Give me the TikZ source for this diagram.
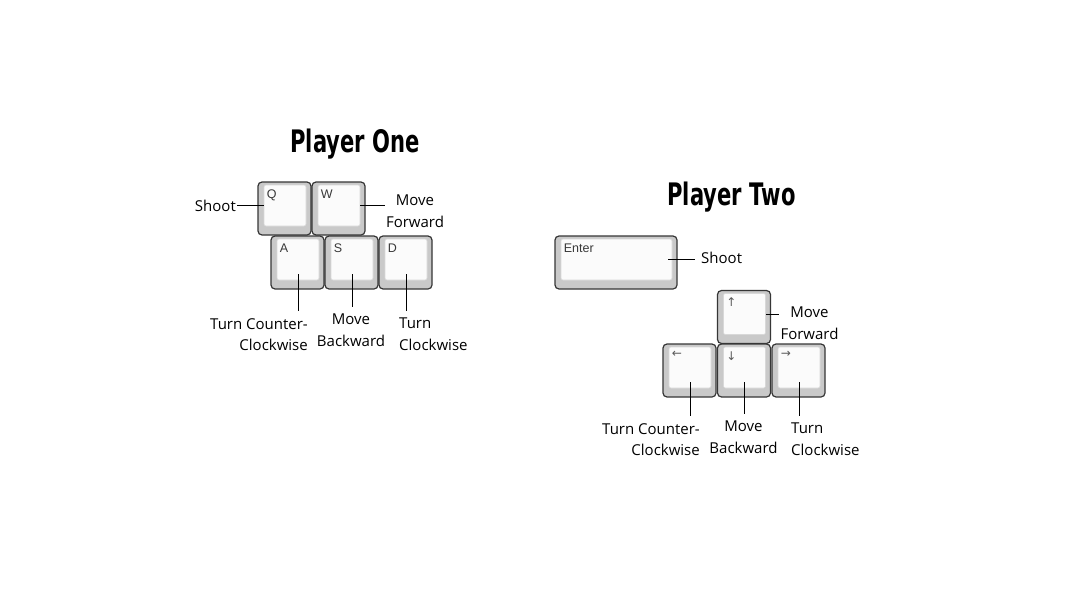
\documentclass[tikz,border=0pt]{standalone}
\usepackage{fontspec}
\setmainfont{Open Sans}
\newfontfamily\keyfont{Liberation Sans}
\newfontfamily\arrowfont{DejaVu Sans}
\newfontfamily\titlefont{DejaVu Sans}

\definecolor{keyfill}{HTML}{C9C9C9}
\definecolor{keyedge}{HTML}{363636}
\definecolor{capfill}{HTML}{FBFBFB}
\definecolor{capedge}{HTML}{D8D8D8}
\definecolor{keytext}{HTML}{383838}
\definecolor{arrowtext}{HTML}{5A5A5A}

\tikzset{
  keyout/.style={draw=keyedge, fill=keyfill, rounded corners=4pt, line width=1.2pt,
    minimum height=53, inner sep=0pt},
  keyin/.style={draw=capedge, fill=capfill, rounded corners=2pt, line width=0.6pt,
    minimum height=41, inner sep=0pt},
  keylbl/.style={anchor=north west, inner sep=0pt, text=keytext,
    font=\keyfont\fontsize{12.5}{13}\selectfont},
  title/.style={anchor=base, inner sep=0pt, xscale=0.68,
    font=\titlefont\bfseries\fontsize{31}{31}\selectfont},
  lbl/.style={inner xsep=1pt, inner ysep=7pt, font=\fontsize{15}{21.5}\selectfont},
  wire/.style={draw=black, line width=0.8pt}
}

% name, centre, width, legend
\newcommand{\keycap}[4]{%
  \node[keyout, minimum width=#3] (#1) at (#2) {};
  \node[keyin, minimum width=#3-11] (#1i) at ([xshift=0.5, yshift=3]#1.center) {};
  \node[keylbl] (#1l) at ([xshift=3, yshift=-4.5]#1i.north west) {#4};
}
\newcommand{\arrowsign}[1]{{\arrowfont\color{arrowtext}\fontsize{12}{12}\selectfont #1}}

\begin{document}
\begin{tikzpicture}[x=1pt,y=-1pt]
\useasboundingbox[fill=white] (0,0) rectangle (1080,608);

% player one
\node[title] (titleone) at (355,152) {Player One};
\keycap{q}{284.5,208.5}{53}{Q}
\keycap{w}{338.5,208.5}{53}{W}
\keycap{a}{297.5,262.5}{53}{A}
\keycap{s}{351.5,262.5}{53}{S}
\keycap{d}{405.5,262.5}{53}{D}

\node[lbl, anchor=east] (shootone) at (237,206) {Shoot};
\node[lbl, anchor=north, align=center] (fwdone) at (415,188) {Move\\Forward};
\node[lbl, anchor=north east, align=right] (ccwone) at (309,311) {Turn Counter-\\Clockwise};
\node[lbl, anchor=north, align=center] (bwdone) at (351,307) {Move\\Backward};
\node[lbl, anchor=north west, align=left] (cwone) at (398,311) {Turn\\Clockwise};

\draw[wire] (qi.west) -- (qi.west -| shootone.east);
\draw[wire] (wi.east) -- (wi.east -| fwdone.west);
\draw[wire] ([yshift=6]ai.south) -- (ai.south |- ccwone.north);
\draw[wire] ([yshift=6]si.south) -- (si.south |- bwdone.north);
\draw[wire] ([yshift=6]di.south) -- (di.south |- cwone.north);

% player two
\node[title] (titletwo) at (731.5,205) {Player Two};
\keycap{enter}{616,262.5}{122}{Enter}
\keycap{up}{744,317}{53}{\arrowsign{↑}}
\keycap{left}{689.5,370.5}{53}{\arrowsign{←}}
\keycap{down}{744,370.5}{53}{\arrowsign{↓}}
\keycap{right}{798.5,370.5}{53}{\arrowsign{→}}

\node[lbl, anchor=west] (shoottwo) at (700,258) {Shoot};
\node[lbl, anchor=north, align=center] (fwdtwo) at (809.5,300) {Move\\Forward};
\node[lbl, anchor=north east, align=right] (ccwtwo) at (701,416) {Turn Counter-\\Clockwise};
\node[lbl, anchor=north, align=center] (bwdtwo) at (743.5,414) {Move\\Backward};
\node[lbl, anchor=north west, align=left] (cwtwo) at (790,416) {Turn\\Clockwise};

\draw[wire] ([xshift=-4]enteri.east) -- ([xshift=-5]enteri.east -| shoottwo.west);
\draw[wire] (upi.east) -- (upi.east -| fwdtwo.west);
\draw[wire] ([yshift=6]lefti.south) -- (lefti.south |- ccwtwo.north);
\draw[wire] ([yshift=6]downi.south) -- (downi.south |- bwdtwo.north);
\draw[wire] ([yshift=6]righti.south) -- (righti.south |- cwtwo.north);
\end{tikzpicture}
\end{document}
